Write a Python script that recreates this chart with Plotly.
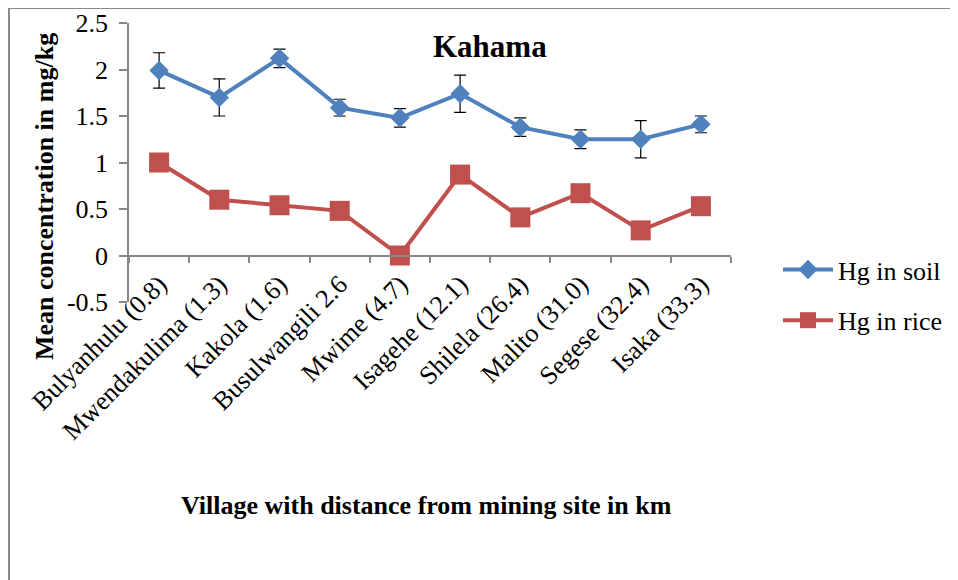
import plotly.graph_objects as go

villages = ["Bulyanhulu (0.8)", "Mwendakulima (1.3)", "Kakola (1.6)", "Busulwangili 2.6",
            "Mwime (4.7)", "Isagehe (12.1)", "Shilela (26.4)", "Malito (31.0)",
            "Segese (32.4)", "Isaka (33.3)"]
hg_soil = [1.99, 1.70, 2.12, 1.59, 1.48, 1.74, 1.38, 1.25, 1.25, 1.41]
hg_soil_err = [0.19, 0.20, 0.10, 0.09, 0.10, 0.20, 0.10, 0.10, 0.20, 0.09]
hg_rice = [1.00, 0.60, 0.54, 0.48, 0.00, 0.87, 0.41, 0.67, 0.27, 0.53]
y_ticks = [-0.5, 0, 0.5, 1, 1.5, 2, 2.5]
y_ticktext = ["-0.5", "0", "0.5", "1", "1.5", "2", "2.5"]

FONT = "Liberation Serif, Times New Roman, serif"
BLUE = "#4F81BD"
RED = "#C0504D"
AXIS = "#878787"

# page offset (body margin) and plot area in reference pixels
OFF = 8
FW, FH = 958 - OFF, 580 - OFF
L, R, T, B = 129, 731, 23, 302
W, H = R - L, B - T

def px(x):
    return (x - L) / W

def py(y):
    return (B - y) / H

fig = go.Figure()
fig.add_trace(go.Scatter(
    x=villages, y=hg_soil, name="Hg in soil", mode="lines+markers",
    line=dict(color=BLUE, width=4),
    marker=dict(symbol="diamond", size=15, color=BLUE),
    error_y=dict(type="data", array=hg_soil_err, color="black", thickness=1.2, width=6),
    legendgroup="a",
))
fig.add_trace(go.Scatter(
    x=villages, y=hg_rice, name="Hg in rice", mode="lines+markers",
    line=dict(color=RED, width=4),
    marker=dict(symbol="square", size=20, color=RED),
    legendgroup="b",
))

fig.update_layout(
    width=FW, height=FH,
    margin=dict(l=L - OFF, r=FW - (R - OFF), t=T - OFF, b=FH - (B - OFF), pad=0,
                autoexpand=False),
    plot_bgcolor="white", paper_bgcolor="white",
    font=dict(family=FONT, size=26, color="black"),
    showlegend=True,
    legend=dict(x=px(778), y=py(246), xanchor="left", yanchor="top",
                font=dict(size=26), tracegroupgap=14, itemwidth=50,
                bgcolor="rgba(0,0,0,0)"),
    xaxis=dict(
        type="category", categoryorder="array", categoryarray=villages,
        range=[-0.5, 9.5], anchor="free", position=py(256), automargin=False,
        showline=True, linecolor=AXIS, linewidth=1.5,
        ticks="outside", ticklen=6, tickcolor=AXIS, tickwidth=1.5,
        tickson="boundaries", tickangle=-45, ticklabelstandoff=2,
        showgrid=False, zeroline=False,
        tickfont=dict(size=26),
    ),
    yaxis=dict(
        range=[-0.5, 2.5], tickvals=y_ticks, ticktext=y_ticktext, automargin=False,
        showline=True, linecolor=AXIS, linewidth=1.5,
        ticks="outside", ticklen=8, tickcolor=AXIS, tickwidth=1.5,
        ticklabelstandoff=6,
        showgrid=False, zeroline=False, tickfont=dict(size=26),
    ),
    annotations=[
        dict(text="<b>Kahama</b>", x=px(490), y=py(46), xref="paper", yref="paper",
             xanchor="center", yanchor="middle", showarrow=False, font=dict(size=31)),
        dict(text="<b>Village with distance from mining site in km</b>", x=px(426), y=py(505),
             xref="paper", yref="paper", xanchor="center", yanchor="middle",
             showarrow=False, font=dict(size=26)),
        dict(text="<b>Mean concentration in mg/kg</b>", x=px(44), y=py(197),
             xref="paper", yref="paper", xanchor="center", yanchor="middle",
             showarrow=False, textangle=-90, font=dict(size=26)),
    ],
    shapes=[
        dict(type="line", xref="paper", yref="paper", x0=px(9), x1=px(958), y0=py(8), y1=py(8),
             line=dict(color="#8a8a8a", width=2)),
        dict(type="line", xref="paper", yref="paper", x0=px(9), x1=px(9), y0=py(8), y1=py(580),
             line=dict(color="#8a8a8a", width=2)),
    ],
)

fig.write_html("out.html")
